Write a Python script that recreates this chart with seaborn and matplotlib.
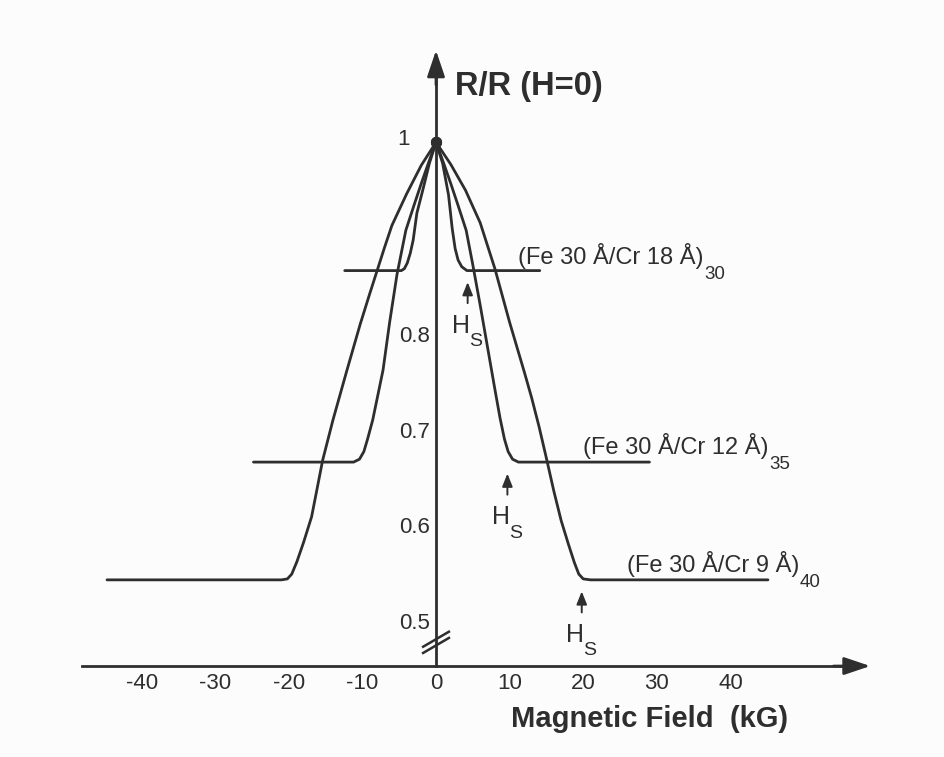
import matplotlib
matplotlib.use("Agg")
import matplotlib.pyplot as plt
import pandas as pd
import seaborn as sns

# Magnetoresistance of Fe/Cr superlattices at 4.2 K
# field in kG, resistance normalised to its zero-field value
cr18_field = [-12.4, -4.7, -4.3, -3.9, -3.5, -3.1, -2.6, -1.8, -0.9, 0.0,
              0.9, 1.7, 2.2, 2.6, 3.0, 3.5, 4.2, 14.1]
cr18_ratio = [0.866, 0.866, 0.868, 0.874, 0.884, 0.898, 0.926, 0.950, 0.978, 1.000,
              0.978, 0.945, 0.910, 0.889, 0.877, 0.870, 0.866, 0.866]

cr12_field = [-24.8, -11.2, -10.4, -9.8, -9.3, -8.6, -7.2, -6.3, -5.3, -4.1, -3.0, -2.0, -1.0, 0.0,
              1.0, 2.0, 3.0, 4.1, 5.0, 6.0, 7.0, 8.0, 8.7, 9.3, 9.8, 10.4, 11.2, 29.0]
cr12_ratio = [0.666, 0.666, 0.669, 0.677, 0.690, 0.710, 0.762, 0.812, 0.862, 0.908, 0.934, 0.957, 0.979, 1.000,
              0.979, 0.957, 0.934, 0.908, 0.872, 0.830, 0.786, 0.742, 0.712, 0.690, 0.677, 0.669, 0.666, 0.666]

cr9_field = [-44.7, -21.0, -20.2, -19.6, -18.9, -18.0, -16.9, -15.4, -14.0, -12.1, -10.3, -9.0, -8.0,
             -7.0, -6.0, -4.0, -2.0, 0.0,
             2.0, 4.0, 6.0, 8.0, 10.0, 11.0, 12.0, 13.0, 14.0, 15.0, 16.0, 17.0, 18.0, 18.8, 19.4,
             20.0, 21.0, 45.1]
cr9_ratio = [0.543, 0.543, 0.544, 0.549, 0.562, 0.582, 0.609, 0.668, 0.710, 0.762, 0.810, 0.842, 0.866,
             0.890, 0.913, 0.946, 0.976, 1.000,
             0.977, 0.950, 0.916, 0.868, 0.812, 0.786, 0.760, 0.733, 0.703, 0.670, 0.636, 0.605, 0.580,
             0.561, 0.549, 0.544, 0.543, 0.543]

samples = ["(Fe 30 Å/Cr 18 Å)", "(Fe 30 Å/Cr 12 Å)", "(Fe 30 Å/Cr 9 Å)"]
bilayers = ["30", "35", "40"]
saturation_field = [4.3, 9.7, 19.8]      # H_s, kG
saturation_ratio = [0.866, 0.666, 0.543]

x_ticks = [-40, -30, -20, -10, 0, 10, 20, 30, 40]
y_ticks = [0.5, 0.6, 0.7, 0.8, 0.9, 1.0]
y_tick_labels = ["0.5", "0.6", "0.7", "0.8", "", "1"]

frames = []
for name, f, r in zip(samples, [cr18_field, cr12_field, cr9_field],
                      [cr18_ratio, cr12_ratio, cr9_ratio]):
    frames.append(pd.DataFrame({"field": f, "ratio": r, "sample": name}))
df = pd.concat(frames, ignore_index=True)
peak = df[df["field"] == 0.0]

sns.set_theme(style="white")
plt.rcParams["font.family"] = ["Liberation Sans", "DejaVu Sans"]
plt.rcParams["axes.unicode_minus"] = False

INK = "#2e2e2e"
LW = 2.0

fig = plt.figure(figsize=(9.44, 7.57), dpi=100, facecolor="#fcfcfc")
ax = fig.add_axes([0, 0, 1, 1])
ax.set_facecolor("#fcfcfc")

sns.lineplot(data=df, x="field", y="ratio", units="sample", estimator=None,
             sort=False, color=INK, lw=LW, ax=ax, legend=False)
# the curves meet in a common apex at zero field
sns.scatterplot(data=peak, x="field", y="ratio", s=55, color=INK,
                edgecolor=INK, ax=ax, legend=False, zorder=3)

ax.set_xlim(-59.24, 69.02)
ax.set_ylim(0.358, 1.1486)
ax.set_xlabel("")
ax.set_ylabel("")

# axes drawn through the origin of the field / at the broken ratio axis
X_AXIS_AT = 0.453
ax.spines["left"].set_position(("data", 0))
ax.spines["bottom"].set_position(("data", X_AXIS_AT))
ax.spines["right"].set_visible(False)
ax.spines["top"].set_visible(False)
for s in ("left", "bottom"):
    ax.spines[s].set_color(INK)
    ax.spines[s].set_linewidth(LW)
ax.spines["left"].set_bounds(X_AXIS_AT, 1.075)
ax.spines["bottom"].set_bounds(-48.1, 56.0)

arrow = dict(arrowstyle="-|>,head_length=0.8,head_width=0.27", mutation_scale=20,
             color=INK, lw=LW, shrinkA=0, shrinkB=0)
ax.annotate("", xy=(0, 1.096), xytext=(0, 1.06), arrowprops=arrow)
ax.annotate("", xy=(59.0, X_AXIS_AT), xytext=(54.0, X_AXIS_AT), arrowprops=arrow)

ax.set_xticks(x_ticks)
ax.set_xticklabels([str(t) for t in x_ticks])
ax.set_yticks(y_ticks)
ax.set_yticklabels(y_tick_labels[:-1] + [""])
ax.tick_params(axis="both", direction="in", length=5, width=1.6, color=INK,
               labelcolor=INK, labelsize=16)
ax.tick_params(axis="x", pad=5)
ax.tick_params(axis="y", pad=4)
# the top label sits a little further out, clear of the apex
ax.annotate(y_tick_labels[-1], xy=(0, y_ticks[-1]), xytext=(-19, 2),
            textcoords="offset points", fontsize=16, color=INK,
            ha="right", va="center")

# axis break on the ratio axis
for dv in (0.0, 0.0065):
    ax.plot([-1.9, 1.9], [0.466 + dv, 0.483 + dv], color=INK, lw=1.8,
            solid_capstyle="butt")

ax.text(2.6, 1.0494, "R/R (H=0)", fontsize=23.5, fontweight="bold", color=INK,
        ha="left", va="baseline")
ax.text(10.2, 0.3893, "Magnetic Field  (kG)", fontsize=21, fontweight="bold",
        color=INK, ha="left", va="baseline")

# sample labels with bilayer repetition as subscript
label_pos = [(11.1, 0.873), (20.0, 0.6745), (25.9, 0.551)]
for name, n, (lx, ly) in zip(samples, bilayers, label_pos):
    t = ax.text(lx, ly, name, fontsize=17, color=INK, ha="left", va="baseline")
    ax.annotate(n, xy=(1.0, 0.0), xycoords=t, xytext=(0.5, -7),
                textcoords="offset points", fontsize=13.5, color=INK,
                ha="left", va="baseline")

# saturation field markers
hs_arrow = dict(arrowstyle="-|>,head_length=0.55,head_width=0.22", mutation_scale=14,
                color=INK, lw=1.4, shrinkA=0, shrinkB=0)
for hs, rs in zip(saturation_field, saturation_ratio):
    tip = rs - 0.012
    ax.annotate("", xy=(hs, tip), xytext=(hs, tip - 0.022), arrowprops=hs_arrow)
    h = ax.text(hs - 2.1, tip - 0.053, "H", fontsize=18, color=INK,
                ha="left", va="baseline")
    ax.annotate("S", xy=(1.0, 0.0), xycoords=h, xytext=(-0.5, -6),
                textcoords="offset points", fontsize=14, color=INK,
                ha="left", va="baseline")

fig.savefig("out.png", dpi=100, facecolor=fig.get_facecolor())
